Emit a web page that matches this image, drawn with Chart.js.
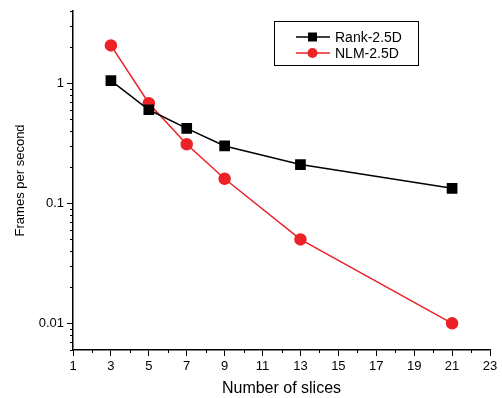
<!DOCTYPE html>
<html>
<head>
<meta charset="utf-8">
<script src="https://cdn.jsdelivr.net/npm/chart.js@4.4.0/dist/chart.umd.min.js"></script>
<style>
  html, body { margin: 0; padding: 0; background: #fff; }
  #wrap { width: 502px; height: 398px; }
</style>
</head>
<body>
<div id="wrap"><canvas id="chart" width="502" height="398"></canvas></div>
<script>
// data
const slices = [3, 5, 7, 9, 13, 21];
const rankFps = [1.05, 0.6, 0.42, 0.30, 0.21, 0.133];
const nlmFps = [2.06, 0.68, 0.31, 0.16, 0.05, 0.01];
const xTicks = [1, 3, 5, 7, 9, 11, 13, 15, 17, 19, 21, 23];
const yTicks = [0.01, 0.1, 1];
const yMinor = [0.006, 0.007, 0.008, 0.009, 0.02, 0.03, 0.04, 0.05, 0.06, 0.07, 0.08, 0.09,
  0.2, 0.3, 0.4, 0.5, 0.6, 0.7, 0.8, 0.9, 2, 3, 4];
const xMinor = [2, 4, 6, 8, 10, 12, 14, 16, 18, 20, 22];

const font = "'Liberation Sans', Arial, sans-serif";
const red = '#ec2227';

// minor ticks + legend box
const extras = {
  id: 'extras',
  afterDraw(chart) {
    const ctx = chart.ctx;
    const x = chart.scales.x, y = chart.scales.y;
    const area = chart.chartArea;
    ctx.save();
    ctx.strokeStyle = '#000';
    ctx.lineWidth = 1;
    ctx.beginPath();
    yMinor.forEach(v => {
      const py = Math.round(y.getPixelForValue(v)) + 0.5;
      ctx.moveTo(area.left - 3, py);
      ctx.lineTo(area.left, py);
    });
    xMinor.forEach(v => {
      const px = Math.round(x.getPixelForValue(v)) + 0.5;
      ctx.moveTo(px, area.bottom);
      ctx.lineTo(px, area.bottom + 3);
    });
    ctx.stroke();

    // legend
    const bx = 274.5, by = 21.5, bw = 144, bh = 44;
    ctx.strokeRect(bx, by, bw, bh);
    ctx.font = '14px ' + font;
    ctx.textBaseline = 'middle';
    chart.data.datasets.forEach((ds, i) => {
      const ly = 37 + i * 16;
      ctx.strokeStyle = ds.borderColor;
      ctx.lineWidth = 1.5;
      ctx.beginPath();
      ctx.moveTo(296, ly);
      ctx.lineTo(330, ly);
      ctx.stroke();
      ctx.fillStyle = ds.pointBackgroundColor;
      if (ds.pointStyle === 'rect') {
        ctx.fillRect(308, ly - 4.5, 9, 9);
      } else {
        ctx.beginPath();
        ctx.arc(312.5, ly, 5, 0, Math.PI * 2);
        ctx.fill();
      }
      ctx.fillStyle = '#000';
      ctx.fillText(ds.label, 335, ly + 1);
    });
    ctx.restore();
  }
};

new Chart(document.getElementById('chart'), {
  type: 'line',
  data: {
    datasets: [
      {
        label: 'Rank-2.5D',
        data: slices.map((s, i) => ({ x: s, y: rankFps[i] })),
        borderColor: '#000',
        backgroundColor: '#000',
        pointBackgroundColor: '#000',
        pointBorderColor: '#000',
        pointStyle: 'rect',
        pointRadius: 6.5,
        borderWidth: 1.5,
        tension: 0
      },
      {
        label: 'NLM-2.5D',
        data: slices.map((s, i) => ({ x: s, y: nlmFps[i] })),
        borderColor: red,
        backgroundColor: red,
        pointBackgroundColor: red,
        pointBorderColor: red,
        pointStyle: 'circle',
        pointRadius: 5.5,
        borderWidth: 1.5,
        tension: 0
      }
    ]
  },
  options: {
    responsive: false,
    animation: false,
    layout: { padding: { left: 9, right: 12, top: 8, bottom: 0 } },
    plugins: {
      legend: { display: false },
      tooltip: { enabled: false }
    },
    scales: {
      x: {
        type: 'linear',
        min: 1,
        max: 23,
        afterBuildTicks: s => { s.ticks = xTicks.map(v => ({ value: v })); },
        afterFit: s => { s.height = 48; },
        grid: { drawOnChartArea: false, tickLength: 6, color: '#000', tickColor: '#000' },
        border: { color: '#000', width: 1.5 },
        ticks: { color: '#000', font: { family: font, size: 13 }, padding: 3, maxRotation: 0 },
        title: { display: true, text: 'Number of slices', color: '#000', font: { family: font, size: 16 }, padding: { top: 0, bottom: 0 } }
      },
      y: {
        type: 'logarithmic',
        min: 0.006,
        max: 4,
        afterBuildTicks: s => { s.ticks = yTicks.map(v => ({ value: v })); },
        afterFit: s => { s.width = 64; },
        grid: { drawOnChartArea: false, tickLength: 6, color: '#000', tickColor: '#000' },
        border: { color: '#000', width: 1.5 },
        ticks: { color: '#000', font: { family: font, size: 13 }, padding: 3, callback: v => String(v) },
        title: { display: true, text: 'Frames per second', color: '#000', font: { family: font, size: 13 }, padding: { top: 4, bottom: 8 } }
      }
    }
  },
  plugins: [extras]
});
</script>
</body>
</html>
